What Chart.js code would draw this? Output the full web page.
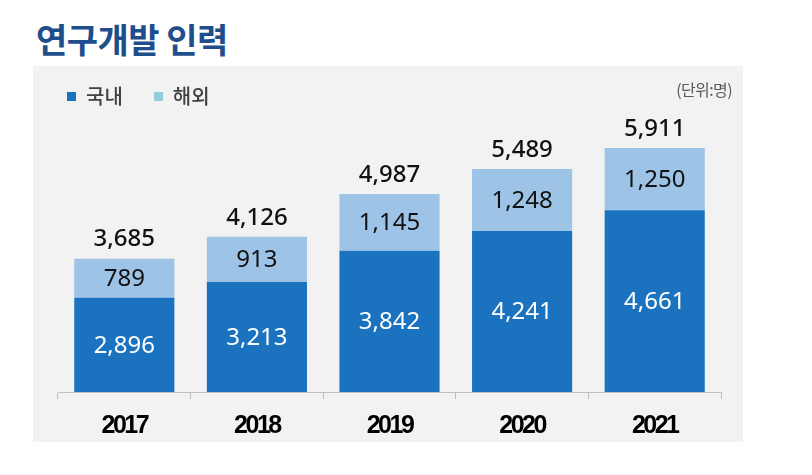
<!DOCTYPE html>
<html>
<head>
<meta charset="utf-8">
<script src="https://cdn.jsdelivr.net/npm/chart.js@4.4.1/dist/chart.umd.min.js"></script>
<style>
  body { margin: 0; background: #fff; width: 812px; height: 475px; position: relative; overflow: hidden; }
  #title { position: absolute; left: 36px; top: 22px; font: bold 34px/34px "Noto Sans CJK KR", sans-serif; color: #1f4e8c; letter-spacing: -0.5px; }
  #panel { position: absolute; left: 33px; top: 66px; width: 710px; height: 376px; background: #f2f2f2; }
  #legend { position: absolute; left: 67px; top: 83px; font: 500 20px/26px "Noto Sans CJK KR", sans-serif; color: #404040; display: flex; }
  #legend span.item { display: flex; align-items: center; margin-right: 31px; }
  #legend i { display: inline-block; width: 9px; height: 9px; margin-right: 10px; }
  #unit { position: absolute; right: 0; top: 11px; width: 100%; text-align: right; padding-right: 11px; box-sizing: border-box; font: 16px "Noto Sans CJK KR", sans-serif; color: #595959; letter-spacing: -0.6px; }
  #chart { position: absolute; left: 0; top: 0; }
</style>
</head>
<body>
<div id="title">연구개발 인력</div>
<div id="panel">
  <canvas id="chart" width="710" height="387"></canvas>
  <div id="unit">(단위:명)</div>
</div>
<div id="legend"></div>
<script>
const years = ['2017', '2018', '2019', '2020', '2021'];
const domestic = [2896, 3213, 3842, 4241, 4661];
const overseas = [789, 913, 1145, 1248, 1250];
const totals = [3685, 4126, 4987, 5489, 5911];
const seriesNames = ['국내', '해외'];
const barColors = ['#1b72be', '#9dc3e6'];
const legendColors = ['#1a72bb', '#92cddc'];

// legend
const legendEl = document.getElementById('legend');
seriesNames.forEach((name, i) => {
  const item = document.createElement('span');
  item.className = 'item';
  item.innerHTML = '<i style="background:' + legendColors[i] + '"></i>' + name;
  legendEl.appendChild(item);
});

const fmt = v => v.toLocaleString('en-US');

// tighter year labels, then normal spacing for everything else
const spacingPlugin = {
  id: 'tickSpacing',
  beforeDraw(chart) { chart.ctx.letterSpacing = '-2.5px'; },
  beforeDatasetsDraw(chart) { chart.ctx.letterSpacing = '0px'; }
};

// value labels on the bars
const labelPlugin = {
  id: 'barLabels',
  afterDatasetsDraw(chart) {
    const ctx = chart.ctx;
    const area = chart.chartArea;
    const domMeta = chart.getDatasetMeta(0);
    const ovsMeta = chart.getDatasetMeta(1);
    ctx.save();
    ctx.letterSpacing = '0px';
    ctx.textAlign = 'center';
    ctx.textBaseline = 'middle';
    domMeta.data.forEach((bar, i) => {
      const top = bar.y;
      const bottom = Math.min(bar.base, area.bottom);
      ctx.fillStyle = '#ffffff';
      ctx.font = '24px "Noto Sans", sans-serif';
      ctx.fillText(fmt(domestic[i]), bar.x, (top + bottom) / 2 + 1);

      const ob = ovsMeta.data[i];
      ctx.fillStyle = '#111111';
      ctx.fillText(fmt(overseas[i]), ob.x, (ob.y + ob.base) / 2 + 1);

      ctx.font = '500 24px "Noto Sans", sans-serif';
      ctx.fillText(fmt(totals[i]), ob.x, ob.y - 19);
    });
    ctx.restore();
  }
};

new Chart(document.getElementById('chart'), {
  type: 'bar',
  data: {
    labels: years,
    datasets: [{
      label: seriesNames[0],
      data: domestic,
      backgroundColor: barColors[0],
      borderWidth: 0
    }, {
      label: seriesNames[1],
      data: overseas,
      backgroundColor: barColors[1],
      borderWidth: 0
    }]
  },
  options: {
    responsive: false,
    animation: false,
    layout: {
      padding: { left: 25, right: 22, top: 28, bottom: 0 }
    },
    categoryPercentage: 1,
    barPercentage: 0.755,
    plugins: {
      legend: { display: false },
      tooltip: { enabled: false }
    },
    scales: {
      x: {
        stacked: true,
        border: { color: '#bfbfbf', width: 1 },
        grid: {
          drawOnChartArea: false,
          drawTicks: true,
          tickLength: 7,
          color: '#bfbfbf'
        },
        ticks: {
          color: '#000',
          padding: 12,
          font: { family: "'Liberation Sans', sans-serif", size: 25, weight: 'bold' }
        }
      },
      y: {
        stacked: true,
        display: false,
        min: 1000,
        max: 7000
      }
    }
  },
  plugins: [spacingPlugin, labelPlugin]
});
</script>
</body>
</html>
